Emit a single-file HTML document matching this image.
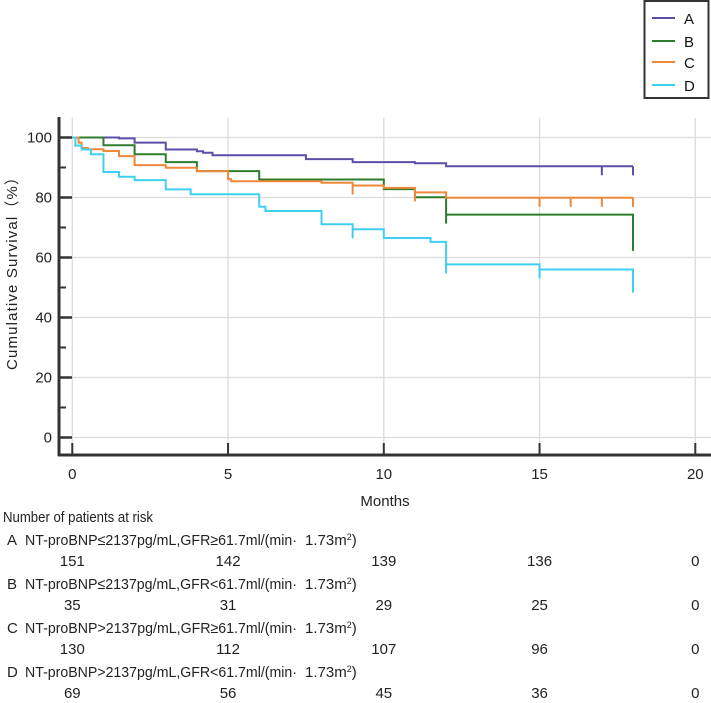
<!DOCTYPE html>
<html><head><meta charset="utf-8">
<style>
html,body{margin:0;padding:0;background:#fff;}
svg{display:block;font-family:"Liberation Sans",Arial,sans-serif;}
</style></head>
<body>
<svg id="chart" width="711" height="703" viewBox="0 0 711 703" xmlns="http://www.w3.org/2000/svg">
<g id="grid"></g>
<g id="axes"></g>
<g id="curves"></g>
<text x="0" y="0" transform="translate(17,270) rotate(-90)" text-anchor="middle" font-size="15" fill="#222" textLength="200" lengthAdjust="spacing">Cumulative  Survival（%）</text>
<text x="385" y="506" text-anchor="middle" font-size="15" fill="#222">Months</text>
<g>
<rect x="644.5" y="1" width="64" height="97" fill="#fff" stroke="#333" stroke-width="2"/>
<line x1="652" y1="18" x2="675" y2="18" stroke="#5a4fa8" stroke-width="2"/>
<text x="684" y="24" font-size="15" fill="#111">A</text>
<line x1="652" y1="41" x2="675" y2="41" stroke="#2e7d2e" stroke-width="2"/>
<text x="684" y="47" font-size="15" fill="#111">B</text>
<line x1="652" y1="62" x2="675" y2="62" stroke="#f0883a" stroke-width="2"/>
<text x="684" y="68" font-size="15" fill="#111">C</text>
<line x1="652" y1="85" x2="675" y2="85" stroke="#3dd0f0" stroke-width="2"/>
<text x="684" y="91" font-size="15" fill="#111">D</text>
</g>
<g id="risk"></g>
</svg>
<script>
const xTicks = [0, 5, 10, 15, 20];
const yTicks = [0, 20, 40, 60, 80, 100];
const yMinor = [10, 30, 50, 70, 90];
const colors = ["#5a4fa8", "#2e7d2e", "#f0883a", "#3dd0f0"];
const groupNames = ["A", "B", "C", "D"];
const timesA = [0, 1.5, 2, 3, 4, 4.2, 4.5, 7.5, 9, 11, 12, 18];
const survA = [100, 99.7, 98.3, 96, 95.4, 94.9, 94.1, 92.8, 91.8, 91.4, 90.4, 90.4];
const censA = [17, 18];
const timesB = [0, 1, 2, 3, 4, 6, 10, 11, 12, 18];
const survB = [100, 97.4, 94.4, 91.8, 88.8, 86.0, 82.8, 80.1, 74.3, 65.2];
const censB = [12, 18];
const timesC = [0, 0.2, 0.3, 0.5, 1, 1.5, 2, 3, 4, 5, 5.1, 8, 9, 10, 11, 12, 18];
const survC = [100, 98.3, 96.5, 96.1, 95.5, 93.8, 90.8, 89.9, 88.8, 86.1, 85.4, 84.9, 84.0, 83.2, 81.7, 79.9, 79.9];
const censC = [9, 11, 15, 16, 17, 18];
const timesD = [0, 0.1, 0.3, 0.6, 1, 1.5, 2, 3, 3.8, 6, 6.2, 8, 9, 10, 11.5, 12, 15, 18];
const survD = [100, 97.3, 96, 94.4, 88.5, 86.9, 85.8, 82.7, 81.1, 76.9, 75.5, 71.1, 69.4, 66.5, 65.2, 57.7, 56.0, 51.3];
const censD = [9, 12, 15, 18];
const riskLetters = ["A", "B", "C", "D"];
const riskLabels = ["NT-proBNP≤2137pg/mL,GFR≥61.7ml/(min·", "NT-proBNP≤2137pg/mL,GFR<61.7ml/(min·", "NT-proBNP>2137pg/mL,GFR≥61.7ml/(min·", "NT-proBNP>2137pg/mL,GFR<61.7ml/(min·"];
const riskTimes = [0, 5, 10, 15, 20];
const riskA = [151, 142, 139, 136, 0];
const riskB = [35, 31, 29, 25, 0];
const riskC = [130, 112, 107, 96, 0];
const riskD = [69, 56, 45, 36, 0];

const NS = "http://www.w3.org/2000/svg";
function X(t){ return 72.3 + t * 31.15; }
function Y(v){ return 437.5 - v * 3; }
function mk(tag, attrs, parent){
  const e = document.createElementNS(NS, tag);
  for (const k in attrs) e.setAttribute(k, attrs[k]);
  parent.appendChild(e); return e;
}
const grid = document.getElementById("grid");
const axes = document.getElementById("axes");
const curves = document.getElementById("curves");
const risk = document.getElementById("risk");

yTicks.forEach(v => {
  const l = mk("line", {x1: 59, x2: 711, y1: Y(v), y2: Y(v), stroke: "#dcdcdc", "stroke-width": 1.3}, grid);
  
  
  const t = mk("line", {x1: 59, x2: 72, y1: Y(v), y2: Y(v), stroke: "#333", "stroke-width": 2.5}, axes);
  
  
  const lb = mk("text", {x: 52, y: Y(v) + 5, "text-anchor": "end", "font-size": 15, fill: "#222"}, axes);
  lb.textContent = v;
  
  
});
yMinor.forEach(v => {
  const t = mk("line", {x1: 59, x2: 66, y1: Y(v), y2: Y(v), stroke: "#333", "stroke-width": 2}, axes);
  
  
});
xTicks.forEach(m => {
  const l = mk("line", {x1: X(m), x2: X(m), y1: 118, y2: 455, stroke: "#dcdcdc", "stroke-width": 1.3}, grid);
  
  
  const t = mk("line", {x1: X(m), x2: X(m), y1: 443, y2: 455, stroke: "#333", "stroke-width": 2}, axes);
  
  
  const lb = mk("text", {x: X(m), y: 479, "text-anchor": "middle", "font-size": 15, fill: "#222"}, axes);
  lb.textContent = m;
  
  
});
const ya = mk("line", {x1: 59, x2: 59, y1: 117, y2: 456, stroke: "#333", "stroke-width": 3}, axes);


const xa = mk("line", {x1: 58, x2: 711, y1: 455, y2: 455, stroke: "#333", "stroke-width": 3}, axes);



const series = [[timesA, survA, censA], [timesB, survB, censB], [timesC, survC, censC], [timesD, survD, censD]];
series.forEach((s, i) => {
  const [ts, vs, cs] = s;
  let d = "M" + X(ts[0]) + " " + Y(vs[0]);
  for (let k = 1; k < ts.length; k++) {
    d += " H" + X(ts[k]) + " V" + Y(vs[k]);
  }
  const p = mk("path", {d: d, fill: "none", stroke: colors[i], "stroke-width": 2}, curves);
  
  
  cs.forEach(c => {
    let v = vs[0];
    for (let k = 0; k < ts.length; k++) if (ts[k] <= c) v = vs[k];
    const cl = mk("line", {x1: X(c), x2: X(c), y1: Y(v), y2: Y(v) + 9, stroke: colors[i], "stroke-width": 2}, curves);
    
    
  });
});

const rt = mk("text", {x: 3, y: 522, "font-size": 15, fill: "#222", textLength: 150, lengthAdjust: "spacingAndGlyphs"}, risk);
rt.textContent = "Number of patients at risk";


const riskVals = [riskA, riskB, riskC, riskD];
riskLabels.forEach((lab, i) => {
  const yl = 545 + i * 44;
  const lt = mk("text", {x: 7, y: yl, "font-size": 15, fill: "#222"}, risk);
  lt.textContent = riskLetters[i];
  
  
  const t = mk("text", {x: 25, y: yl, "font-size": 15, fill: "#222", textLength: 272, lengthAdjust: "spacingAndGlyphs"}, risk);
  t.textContent = lab;
  
  
  const u = mk("text", {x: 305, y: yl, "font-size": 15, fill: "#222"}, risk);
  u.innerHTML = '1.73m<tspan font-size="9" dy="-5">2</tspan><tspan dy="5">)</tspan>';
  
  
  riskVals[i].forEach((n, j) => {
    const nt = mk("text", {x: X(riskTimes[j]), y: yl + 21, "text-anchor": "middle", "font-size": 15, fill: "#222"}, risk);
    nt.textContent = n;
    
    
  });
});
</script>
</body></html>
